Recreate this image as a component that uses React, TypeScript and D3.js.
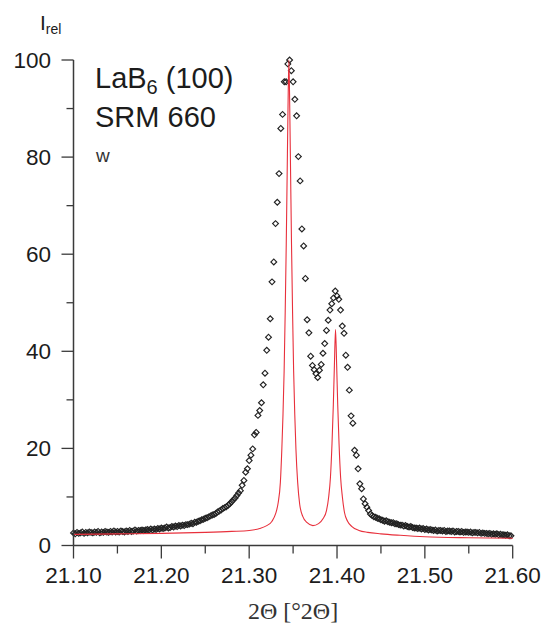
import React from 'react';
import * as d3 from 'd3';

const scanStart = 21.1;
const scanStep = 0.002;
const intensity = [
  2.6, 2.4, 2.7, 2.5, 2.6, 2.8, 2.5, 2.7, 2.6, 2.8,
  2.7, 2.6, 2.8, 2.7, 2.9, 2.6, 2.8, 2.7, 2.9, 2.8,
  2.7, 2.9, 2.8, 3.0, 2.8, 2.9, 2.8, 3.0, 2.9, 2.8,
  3.0, 2.9, 3.1, 2.9, 3.0, 3.2, 3.0, 3.1, 3.1, 3.2,
  3.1, 3.2, 3.3, 3.2, 3.4, 3.2, 3.4, 3.3, 3.5, 3.4,
  3.6, 3.5, 3.6, 3.8, 3.6, 3.7, 3.9, 3.8, 4.0, 3.9,
  4.1, 4.0, 4.2, 4.1, 4.3, 4.3, 4.4, 4.6, 4.5, 4.8,
  4.8, 5.0, 5.1, 5.3, 5.4, 5.6, 5.7, 5.9, 6.1, 6.3,
  6.4, 6.6, 6.9, 7.1, 7.3, 7.6, 7.8, 8.0, 8.3, 8.6,
  9.0, 9.4, 9.8, 10.3, 10.8,
  11.3, 12.4, 13.4, 15.1, 15.8,
  17.5, 18.6, 19.9, 22.8, 23.3, 26.8, 27.8, 29.4, 33.1, 35.5,
  40.2, 42.9, 46.7, 54.3, 58.4, 66.3, 70.7, 76.6, 85.9, 88.8,
  95.5, 95.5, 99.2, 100,
  97.8, 95.5, 91.9, 88.5, 80.1, 75.1,
  65.2, 61.7, 55.0, 46.5, 43.8, 39.0, 37.1, 36.2, 35.4, 34.6,
  36.1, 37.3, 39.6, 41.6, 44.3, 46.4, 48.5, 49.8, 51.0, 52.4,
  51.4, 50.7, 48.5, 45.2, 43.7, 39.2, 36.7, 32.0, 26.7, 25.2,
  19.6, 18.6, 15.8, 12.7, 11.7, 9.6, 8.6, 7.9, 7.2, 6.5,
  6.2, 5.9, 5.8, 5.6, 5.5, 5.3, 5.2, 5.0, 5.1, 4.9,
  4.8, 4.7, 4.7, 4.5, 4.5, 4.3, 4.2, 4.2, 4.0, 4.1,
  3.9, 3.8, 3.9, 3.7, 3.6, 3.6, 3.5, 3.6, 3.4, 3.5,
  3.3, 3.4, 3.2, 3.3, 3.2, 3.1, 3.2, 3.0, 3.1, 3.1,
  3.0, 3.1, 2.9, 3.0, 3.0, 2.9, 3.0, 2.8, 2.9, 2.9,
  2.8, 2.9, 2.7, 2.8, 2.8, 2.7, 2.8, 2.6, 2.7, 2.7,
  2.6, 2.7, 2.5, 2.6, 2.5, 2.5, 2.4, 2.5, 2.3, 2.4,
  2.3, 2.4, 2.2, 2.3, 2.2, 2.2, 2.1, 2.2, 2.0, 2.0,
];

const fitAngle = [
  21.1, 21.15, 21.2, 21.25, 21.28, 21.3, 21.312, 21.32, 21.326, 21.33,
  21.333, 21.3355, 21.3372, 21.3385, 21.3398, 21.341, 21.3422, 21.3432, 21.3442, 21.3452,
  21.3462, 21.3472, 21.3482, 21.3494, 21.3506, 21.3519, 21.3532, 21.3552, 21.3575, 21.361,
  21.366, 21.3725, 21.379, 21.384, 21.388, 21.3905, 21.3925, 21.3943, 21.3958, 21.397,
  21.3983, 21.3996, 21.4008, 21.4023, 21.4041, 21.4061, 21.4085, 21.412, 21.417, 21.425,
  21.435, 21.45, 21.472, 21.5, 21.55, 21.6,
];
const fitIntensity = [
  2.3, 2.4, 2.5, 2.7, 2.9, 3.1, 3.5, 4.1, 5.0, 6.5,
  8.8, 13, 20, 27, 36, 48, 62, 76, 90, 100,
  90, 76, 62, 48, 36, 27, 20, 13, 8.5, 6.0,
  4.7, 4.1, 4.5, 5.5, 7.2, 10, 14, 21, 29, 37,
  44.5, 37, 29, 21, 14, 10, 6.8, 5.0, 3.9, 3.1,
  2.7, 2.4, 2.1, 1.8, 1.6, 1.5,
];

const xTicks = [21.1, 21.2, 21.3, 21.4, 21.5, 21.6];
const xMinorTicks = [21.15, 21.25, 21.35, 21.45, 21.55];
const yTicks = [0, 20, 40, 60, 80, 100];
const yMinorTicks = [10, 30, 50, 70, 90];

export default function App() {
  const W = 545;
  const H = 628;
  const x = d3.scaleLinear().domain([21.1, 21.6]).range([73.5, 512.7]);
  const y = d3.scaleLinear().domain([0, 100]).range([545.5, 60]);
  const marker = d3.symbol().type(d3.symbolSquare).size(17)() as string;
  const fitPts: [number, number][] = fitAngle.map((a, i) => [a, fitIntensity[i]]);
  const line = d3
    .line<[number, number]>()
    .x((d) => x(d[0]))
    .y((d) => y(d[1]))
    .curve(d3.curveMonotoneX);
  const axisColor = '#3a3a3a';
  const sans = '"Liberation Sans", Arial, sans-serif';
  const textColor = '#1c1c1c';

  return (
    <svg
      width={W}
      height={H}
      style={{ position: 'absolute', left: 0, top: 0, background: '#fff' }}
    >
      <rect width={W} height={H} fill="#fff" />
      {/* data points */}
      <g>
        {intensity.map((v, i) => {
          const a = scanStart + i * scanStep;
          return (
            <path
              key={i}
              d={marker}
              transform={`translate(${x(a)},${y(v)}) rotate(45)`}
              fill="none"
              stroke="#222"
              strokeWidth={1.15}
            />
          );
        })}
      </g>
      {/* fit line */}
      <path d={line(fitPts) as string} fill="none" stroke="#e8303c" strokeWidth={1.1} />
      {/* axes */}
      <line x1={x(21.1)} x2={x(21.1)} y1={y(100)} y2={y(0)} stroke={axisColor} strokeWidth={1.5} />
      <line x1={x(21.1)} x2={x(21.6)} y1={y(0)} y2={y(0)} stroke={axisColor} strokeWidth={1.5} />
      {yTicks.map((t) => (
        <g key={'yt' + t}>
          <line x1={x(21.1) - 12} x2={x(21.1)} y1={y(t)} y2={y(t)} stroke={axisColor} strokeWidth={1.3} />
          <text x={51} y={y(t) + 7.8} textAnchor="end" fontFamily={sans} fontSize={22.5} fill={textColor}>
            {t}
          </text>
        </g>
      ))}
      {yMinorTicks.map((t) => (
        <line key={'ym' + t} x1={x(21.1) - 7} x2={x(21.1)} y1={y(t)} y2={y(t)} stroke={axisColor} strokeWidth={1.3} />
      ))}
      {xTicks.map((t) => (
        <g key={'xt' + t}>
          <line x1={x(t)} x2={x(t)} y1={y(0)} y2={y(0) + 13} stroke={axisColor} strokeWidth={1.3} />
          <text x={x(t)} y={583} textAnchor="middle" fontFamily={sans} fontSize={22.5} fill={textColor}>
            {t.toFixed(2)}
          </text>
        </g>
      ))}
      {xMinorTicks.map((t) => (
        <line key={'xm' + t} x1={x(t)} x2={x(t)} y1={y(0)} y2={y(0) + 8} stroke={axisColor} strokeWidth={1.3} />
      ))}
      {/* axis titles */}
      <text
        x={293}
        y={619}
        textAnchor="middle"
        style={{ fontFamily: "'Liberation Serif', 'DejaVu Serif', serif", fontSize: '24px' }}
        fill="#333"
      >
        2Θ [°2Θ]
      </text>
      <text x={40} y={30} fontFamily={sans} fontSize={21} fill={textColor}>
        I
        <tspan fontSize={14} dy={4}>rel</tspan>
      </text>
      {/* annotations */}
      <text x={95} y={88} fontFamily={sans} fontSize={29} fill={textColor}>
        LaB
        <tspan fontSize={20} dy={6}>6</tspan>
        <tspan dy={-6}> (100)</tspan>
      </text>
      <text x={95} y={127} fontFamily={sans} fontSize={29} fill={textColor}>
        SRM 660
      </text>
      <text x={96} y={162} fontFamily={sans} fontSize={19} fill="#333">
        w
      </text>
    </svg>
  );
}
